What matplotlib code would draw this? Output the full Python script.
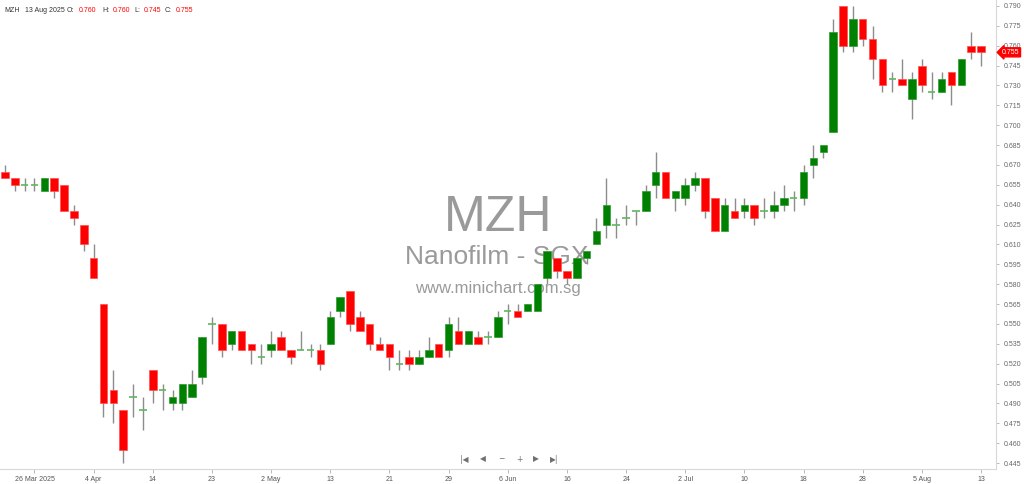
import matplotlib
matplotlib.use("Agg")
import matplotlib.pyplot as plt
import matplotlib.transforms as mtransforms
import numpy as np

# ---------------- data ----------------
opens = [0.665, 0.660, 0.655, 0.655, 0.650, 0.660, 0.655, 0.635, 0.625, 0.600,
         0.565, 0.500, 0.485, 0.495, 0.485, 0.515, 0.500, 0.490, 0.490, 0.495,
         0.510, 0.550, 0.550, 0.535, 0.545, 0.535, 0.525, 0.530, 0.540, 0.530,
         0.530, 0.530, 0.530, 0.535, 0.560, 0.575, 0.555, 0.550, 0.535, 0.535,
         0.520, 0.525, 0.520, 0.525, 0.535, 0.530, 0.545, 0.535, 0.540, 0.540,
         0.540, 0.560, 0.560, 0.560, 0.560, 0.585, 0.600, 0.590, 0.585, 0.600,
         0.610, 0.625, 0.625, 0.630, 0.635, 0.635, 0.655, 0.665, 0.645, 0.645,
         0.655, 0.660, 0.645, 0.620, 0.635, 0.635, 0.640, 0.635, 0.635, 0.640,
         0.645, 0.645, 0.670, 0.680, 0.695, 0.790, 0.760, 0.780, 0.765, 0.750,
         0.735, 0.735, 0.720, 0.745, 0.725, 0.725, 0.740, 0.730, 0.760, 0.760]
highs = [0.670, 0.660, 0.660, 0.660, 0.660, 0.660, 0.655, 0.640, 0.625, 0.610,
         0.565, 0.515, 0.485, 0.505, 0.495, 0.515, 0.505, 0.500, 0.505, 0.515,
         0.540, 0.555, 0.550, 0.545, 0.545, 0.535, 0.535, 0.545, 0.545, 0.530,
         0.545, 0.535, 0.535, 0.560, 0.570, 0.575, 0.560, 0.550, 0.540, 0.535,
         0.530, 0.530, 0.530, 0.540, 0.535, 0.555, 0.555, 0.545, 0.545, 0.545,
         0.560, 0.565, 0.565, 0.565, 0.580, 0.605, 0.600, 0.590, 0.600, 0.605,
         0.630, 0.660, 0.630, 0.640, 0.635, 0.655, 0.680, 0.665, 0.650, 0.660,
         0.665, 0.660, 0.645, 0.645, 0.645, 0.645, 0.640, 0.645, 0.650, 0.655,
         0.650, 0.670, 0.685, 0.685, 0.780, 0.790, 0.790, 0.780, 0.775, 0.750,
         0.740, 0.750, 0.740, 0.750, 0.740, 0.740, 0.740, 0.750, 0.770, 0.760]
lows = [0.660, 0.650, 0.650, 0.650, 0.650, 0.645, 0.635, 0.625, 0.605, 0.585,
        0.480, 0.475, 0.445, 0.480, 0.470, 0.490, 0.485, 0.485, 0.485, 0.495,
        0.505, 0.535, 0.525, 0.530, 0.530, 0.520, 0.520, 0.525, 0.530, 0.520,
        0.530, 0.525, 0.515, 0.535, 0.555, 0.545, 0.545, 0.530, 0.530, 0.515,
        0.515, 0.515, 0.520, 0.525, 0.525, 0.525, 0.535, 0.535, 0.535, 0.535,
        0.540, 0.550, 0.555, 0.560, 0.560, 0.580, 0.585, 0.580, 0.585, 0.595,
        0.610, 0.615, 0.615, 0.625, 0.625, 0.635, 0.645, 0.645, 0.635, 0.640,
        0.650, 0.630, 0.620, 0.620, 0.630, 0.630, 0.625, 0.630, 0.630, 0.635,
        0.635, 0.640, 0.660, 0.675, 0.695, 0.755, 0.755, 0.760, 0.735, 0.725,
        0.725, 0.730, 0.705, 0.725, 0.720, 0.725, 0.715, 0.730, 0.750, 0.745]
closes = [0.660, 0.655, 0.655, 0.655, 0.660, 0.650, 0.635, 0.630, 0.610, 0.585,
          0.490, 0.490, 0.455, 0.495, 0.485, 0.500, 0.500, 0.495, 0.505, 0.505,
          0.540, 0.550, 0.530, 0.545, 0.530, 0.530, 0.525, 0.535, 0.530, 0.525,
          0.530, 0.530, 0.520, 0.555, 0.570, 0.550, 0.545, 0.535, 0.530, 0.525,
          0.520, 0.520, 0.525, 0.530, 0.525, 0.550, 0.535, 0.545, 0.535, 0.540,
          0.555, 0.560, 0.555, 0.565, 0.580, 0.605, 0.590, 0.585, 0.600, 0.605,
          0.620, 0.640, 0.625, 0.630, 0.635, 0.650, 0.665, 0.645, 0.650, 0.655,
          0.660, 0.635, 0.620, 0.640, 0.630, 0.640, 0.630, 0.635, 0.640, 0.645,
          0.645, 0.665, 0.675, 0.685, 0.770, 0.760, 0.780, 0.765, 0.750, 0.730,
          0.735, 0.730, 0.735, 0.730, 0.725, 0.735, 0.730, 0.750, 0.755, 0.755]

tick_positions = [3, 9, 15, 21, 27, 33, 39, 45, 51, 57, 63, 69, 75, 81, 87, 93, 99]
tick_labels = ["26 Mar 2025", "4 Apr", "14", "23", "2 May", "13", "21", "29",
               "6 Jun", "16", "24", "2 Jul", "10", "18", "28", "5 Aug", "13"]
y_ticks = [0.445, 0.460, 0.475, 0.490, 0.505, 0.520, 0.535, 0.550, 0.565, 0.580,
           0.595, 0.610, 0.625, 0.640, 0.655, 0.670, 0.685, 0.700, 0.715, 0.730,
           0.745, 0.760, 0.775, 0.790]

symbol = "MZH"
last_date = "13 Aug 2025"
company = "Nanofilm - SGX"
website = "www.minichart.com.sg"

# ---------------- figure ----------------
W, H = 1024, 484
fig = plt.figure(figsize=(W / 100, H / 100), dpi=100)
ax = fig.add_axes([0, 15 / H, 996 / W, 469 / H])

o = np.array(opens); h = np.array(highs); l = np.array(lows); c = np.array(closes)
idx = np.arange(len(o))
RED = "#ff0000"
GREEN = "#008000"
DOJI = "#5cb85c"
WICK = "#8c8c8c"
bw = 0.76

ax.vlines(idx, l, h, color=WICK, lw=1.0, zorder=1)
up = c > o
dn = c < o
eq = c == o
ax.bar(idx[up], (c - o)[up], bottom=o[up], width=bw, color=GREEN,
       edgecolor="#2e9a2e", linewidth=0.5, zorder=2)
ax.bar(idx[dn], (o - c)[dn], bottom=c[dn], width=bw, color=RED,
       edgecolor="#ff5050", linewidth=0.5, zorder=2)
ax.hlines(c[eq], idx[eq] - bw / 2, idx[eq] + bw / 2, color=DOJI, lw=1.2, zorder=2)

ax.set_xlim(-0.497, 100.52)
ax.set_ylim(0.4405, 0.7945)

for s in ["top", "left"]:
    ax.spines[s].set_visible(False)
for s in ["right", "bottom"]:
    ax.spines[s].set_color("#d8d8d8")
    ax.spines[s].set_linewidth(0.8)

ax.yaxis.tick_right()
ax.set_yticks(y_ticks)
ax.set_yticklabels([f"{v:.3f}" for v in y_ticks])
ax.tick_params(axis="y", length=2.5, width=0.6, color="#b0b0b0", pad=3,
               labelsize=5, labelcolor="#666666")
ax.set_xticks(tick_positions)
ax.set_xticklabels(tick_labels)
ax.tick_params(axis="x", length=3, width=0.6, color="#b0b0b0", pad=2,
               labelsize=5, labelcolor="#555555")
for t in ax.get_xticklabels() + ax.get_yticklabels():
    t.set_fontfamily("Liberation Sans")

# watermark
ax.text(0.486, 0.55, symbol, transform=fig.transFigure, ha="center", va="center",
        fontsize=36, color="#9a9a9a", family="Liberation Sans", zorder=0)
ax.text(0.485, 0.468, company, transform=fig.transFigure, ha="center", va="center",
        fontsize=19, color="#9a9a9a", family="Liberation Sans", zorder=0)
ax.text(0.486, 0.403, website, transform=fig.transFigure, ha="center", va="center",
        fontsize=12, color="#9a9a9a", family="Liberation Sans", zorder=0)

# header
def ftxt(x, y, s, color="#333333", size=5.0, ha="left"):
    fig.text(x / W, 1 - y / H, s, ha=ha, va="center", fontsize=size,
             color=color, family="Liberation Sans")

last = len(o) - 1
ftxt(4, 10.5, symbol)
ftxt(25, 10.5, last_date)
ftxt(67, 10.5, "O:")
ftxt(79, 10.5, f"{opens[last]:.3f}", RED)
ftxt(102, 10.5, "H:")
ftxt(113, 10.5, f"{highs[last]:.3f}", RED)
ftxt(134, 10.5, "L:")
ftxt(144, 10.5, f"{lows[last]:.3f}", RED)
ftxt(165, 10.5, "C:")
ftxt(176, 10.5, f"{closes[last]:.3f}", RED)

# last price tag
trans = mtransforms.blended_transform_factory(ax.transAxes, ax.transData)
ax.text(1.006, closes[last], f"{closes[last]:.3f}", transform=trans, ha="left",
        va="center", fontsize=5, color="white", family="Liberation Sans",
        bbox=dict(boxstyle="larrow,pad=0.15", fc=RED, ec=RED), zorder=5,
        clip_on=False)

# navigation buttons
nav = [(464, "|◀"), (483, "◀"), (501, "−"), (519, "+"), (536, "▶"), (554, "▶|")]
for x, s in nav:
    fig.text(x / W, 1 - 459 / H, s, ha="center", va="center", fontsize=5.5,
             color="#707070", family="DejaVu Sans")

fig.savefig("out.png", dpi=100)
